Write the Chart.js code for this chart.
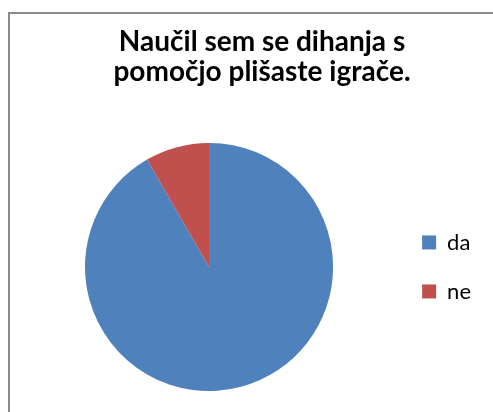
<!DOCTYPE html>
<html>
<head>
<meta charset="utf-8">
<script src="https://cdn.jsdelivr.net/npm/chart.js@4.4.0/dist/chart.umd.min.js"></script>
<style>
  html, body { margin: 0; padding: 0; background: #ffffff; }
  #wrap { position: relative; width: 493px; height: 412px; overflow: hidden; background: #ffffff; }
  #frame { position: absolute; left: 8px; top: 12px; width: 700px; height: 700px;
           border-left: 2px solid #8a8a8a; border-top: 2px solid #8a8a8a; box-sizing: border-box; }
  #box { position: absolute; left: 0; top: 0; width: 501px; height: 412px; }
</style>
</head>
<body>
<div id="wrap">
  <div id="frame"></div>
  <div id="box"><canvas id="c"></canvas></div>
</div>
<script>
const titleLines = ["Naučil sem se dihanja s", "pomočjo plišaste igrače."];
const categories = ["da", "ne"];
const values = [11, 1];
const colors = ["#4F81BD", "#C0504D"];

const spacer = {
  id: 'spacer',
  beforeInit(chart) {
    Chart.layouts.addBox(chart, {
      position: 'right', weight: 2000, fullSize: false,
      options: {},
      isHorizontal() { return false; },
      update(maxWidth, maxHeight) { this.width = 20; this.height = maxHeight; },
      draw() {}
    });
  }
};

new Chart(document.getElementById('c'), {
  type: 'pie',
  data: {
    labels: categories,
    datasets: [{ data: values, backgroundColor: colors, borderWidth: 0 }]
  },
  options: {
    responsive: true,
    maintainAspectRatio: false,
    animation: false,
    layout: { padding: { left: 23, right: 0, top: 0, bottom: 21 } },
    plugins: {
      title: {
        display: true,
        text: titleLines,
        color: '#000000',
        font: { family: 'Lato', weight: 'bold', size: 28, lineHeight: 1.07 },
        padding: { top: 27, bottom: 56 }
      },
      legend: {
        position: 'right',
        fullSize: false,
        labels: {
          color: '#000000',
          boxWidth: 14, boxHeight: 14,
          padding: 27,
          font: { family: 'Lato', size: 22 }
        }
      },
      tooltip: { enabled: false }
    }
  },
  plugins: [spacer]
});
</script>
</body>
</html>
